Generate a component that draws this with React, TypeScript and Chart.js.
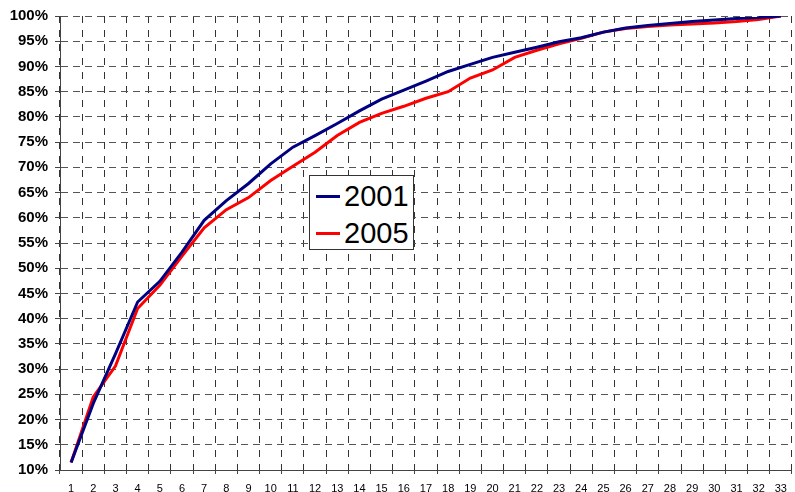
import React, { useEffect, useRef } from "react";
import { Chart, registerables } from "chart.js";

Chart.register(...registerables);

const categories = [
  "1", "2", "3", "4", "5", "6", "7", "8", "9", "10", "11",
  "12", "13", "14", "15", "16", "17", "18", "19", "20", "21", "22",
  "23", "24", "25", "26", "27", "28", "29", "30", "31", "32", "33",
];

const series2001 = [
  11.5, 23.2, 33.0, 43.3, 47.4, 53.2, 59.5, 63.4, 66.8, 70.7, 74.0,
  76.3, 78.7, 81.2, 83.5, 85.3, 87.1, 89.0, 90.4, 91.8, 92.8, 93.8,
  94.9, 95.7, 96.8, 97.6, 98.1, 98.5, 98.9, 99.2, 99.5, 99.7, 100,
];

const series2005 = [
  11.5, 24.5, 30.6, 42.0, 46.6, 52.4, 58.0, 61.6, 64.0, 67.4, 70.2,
  73.0, 76.3, 78.9, 80.7, 82.1, 83.7, 85.0, 87.7, 89.3, 91.8, 93.2,
  94.5, 95.6, 96.8, 97.5, 97.9, 98.2, 98.4, 98.6, 98.9, 99.3, 100,
];

const seriesNames = ["2001", "2005"];
const seriesColors = ["#000080", "#ff0000"];

const yMin = 10;
const yMax = 100;
const yStep = 5;

const FONT = "'Liberation Sans', Arial, Helvetica, sans-serif";

export default function App() {
  const canvasRef = useRef<HTMLCanvasElement | null>(null);

  useEffect(() => {
    if (!canvasRef.current) return;
    const chart = new Chart(canvasRef.current, {
      type: "line",
      data: {
        labels: categories,
        datasets: [
          {
            label: seriesNames[0],
            data: series2001,
            borderColor: seriesColors[0],
            backgroundColor: seriesColors[0],
            borderWidth: 3,
            pointRadius: 0,
            tension: 0,
          },
          {
            label: seriesNames[1],
            data: series2005,
            borderColor: seriesColors[1],
            backgroundColor: seriesColors[1],
            borderWidth: 3,
            pointRadius: 0,
            tension: 0,
          },
        ],
      },
      options: {
        responsive: false,
        animation: false,
        layout: { padding: { top: 15, right: 1, left: 0, bottom: 0 } },
        plugins: {
          legend: { display: false },
          tooltip: { enabled: false },
        },
        scales: {
          x: {
            type: "category",
            offset: true,
            grid: {
              offset: true,
              color: "#333",
              lineWidth: 1,
              drawTicks: true,
              tickLength: 4,
              tickColor: "#444",
            },
            border: { display: true, color: "#444", width: 1, dash: [7, 7] },
            ticks: {
              color: "#000",
              font: { family: FONT, size: 11 },
              padding: 8,
              maxRotation: 0,
              autoSkip: false,
            },
            afterFit: (scale: any) => {
              scale.height = 22;
            },
          },
          y: {
            min: yMin,
            max: yMax,
            grid: {
              color: "#555",
              lineWidth: 1,
              drawTicks: true,
              tickLength: 5,
              tickColor: "#444",
            },
            border: { display: true, color: "#444", width: 1, dash: [7, 5] },
            ticks: {
              stepSize: yStep,
              color: "#000",
              font: { family: FONT, size: 15, weight: "bold" },
              padding: 7,
              callback: (v: any) => `${v}%`,
            },
            afterFit: (scale: any) => {
              scale.width = 60;
            },
          },
        },
      },
    });
    return () => chart.destroy();
  }, []);

  const legendRows = seriesNames.map((name, i) => (
    <div key={name}>
      <div
        style={{
          position: "absolute",
          left: 6,
          top: 19 + i * 37,
          width: 24,
          height: 3,
          background: seriesColors[i],
        }}
      />
      <div
        style={{
          position: "absolute",
          left: 34,
          top: 6 + i * 37,
          fontFamily: FONT,
          fontSize: 29,
          lineHeight: "29px",
          color: "#000",
        }}
      >
        {name}
      </div>
    </div>
  ));

  return (
    <div
      style={{
        position: "fixed",
        left: 0,
        top: 0,
        width: 795,
        height: 492,
        background: "#fff",
      }}
    >
      <canvas ref={canvasRef} width={795} height={492} style={{ display: "block" }} />
      <div
        style={{
          position: "absolute",
          left: 309,
          top: 175,
          width: 103,
          height: 73,
          border: "1px solid #333",
          background: "#fff",
        }}
      >
        {legendRows}
      </div>
    </div>
  );
}
